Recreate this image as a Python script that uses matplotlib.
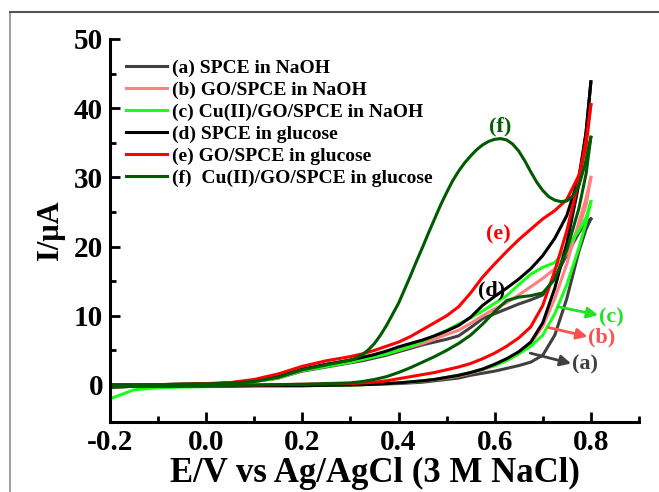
import matplotlib
matplotlib.use("Agg")
import matplotlib.pyplot as plt
from matplotlib.lines import Line2D

plt.rcParams['font.family'] = ['Liberation Serif', 'DejaVu Serif']
plt.rcParams['font.weight'] = 'bold'

# potential grid (V)
E = [-0.2, -0.15, -0.1, -0.05, 0.0, 0.05, 0.1, 0.15, 0.2, 0.25,
     0.3, 0.325, 0.35, 0.375, 0.4, 0.425, 0.45, 0.475, 0.5, 0.525,
     0.55, 0.575, 0.6, 0.625, 0.65, 0.675, 0.7, 0.725, 0.75, 0.775, 0.79, 0.8]

# forward (upper) branches, uA
a_fwd = [0.0, 0.0, 0.05, 0.1, 0.15, 0.25, 0.5, 1.0, 2.0, 2.6,
         3.2, 3.5, 3.9, 4.3, 4.8, 5.3, 5.8, 6.2, 6.6, 7.1,
         8.3, 9.6, 10.3, 11.0, 11.7, 12.3, 13.0, 15.5, 18.8, 22.0, 23.5, 24.0]
b_fwd = [0.0, 0.0, 0.05, 0.1, 0.15, 0.25, 0.5, 1.0, 2.1, 2.7,
         3.3, 3.7, 4.1, 4.5, 5.0, 5.5, 6.0, 6.6, 7.3, 7.9,
         8.9, 10.0, 11.0, 11.9, 13.0, 14.2, 15.4, 16.8, 19.0, 22.8, 26.0, 30.0]
c_fwd = [0.0, 0.0, 0.05, 0.1, 0.15, 0.25, 0.5, 1.0, 2.1, 2.7,
         3.3, 3.7, 4.1, 4.5, 5.0, 5.6, 6.3, 7.1, 7.9, 8.8,
         9.7, 10.7, 11.8, 12.9, 14.5, 16.0, 17.0, 17.7, 19.8, 22.3, 24.2, 26.5]
d_fwd = [0.0, 0.0, 0.05, 0.1, 0.15, 0.3, 0.6, 1.2, 2.3, 3.0,
         3.6, 4.0, 4.4, 4.9, 5.5, 6.0, 6.5, 7.1, 7.8, 8.6,
         9.8, 11.5, 12.8, 14.0, 15.3, 16.8, 18.7, 21.2, 24.5, 30.0, 36.5, 43.8]
e_fwd = [0.0, 0.0, 0.05, 0.1, 0.2, 0.35, 0.8, 1.6, 2.7, 3.5,
         4.1, 4.5, 5.0, 5.6, 6.2, 7.0, 8.0, 9.0, 10.0, 11.3,
         13.3, 15.6, 17.5, 19.3, 21.0, 22.5, 24.0, 25.2, 26.8, 30.3, 34.5, 40.5]

# reverse (lower) branches, uA
a_rev = [-0.3, -0.2, -0.15, -0.15, -0.15, -0.15, -0.1, -0.1, -0.1, -0.05,
         0.0, 0.05, 0.1, 0.15, 0.2, 0.3, 0.4, 0.6, 0.8, 1.0,
         1.4, 1.7, 2.0, 2.4, 2.8, 3.3, 4.3, 7.2, 12.5, 19.3, 22.5, 24.0]
b_rev = [-0.3, -0.2, -0.15, -0.15, -0.15, -0.15, -0.1, -0.1, -0.1, -0.05,
         0.0, 0.05, 0.1, 0.2, 0.3, 0.4, 0.55, 0.75, 1.0, 1.3,
         1.7, 2.2, 2.8, 3.6, 4.5, 6.0, 8.5, 12.5, 17.5, 23.5, 27.0, 30.0]
c_rev = [-2.0, -0.7, -0.4, -0.3, -0.25, -0.2, -0.15, -0.1, -0.1, -0.05,
         0.0, 0.05, 0.1, 0.2, 0.3, 0.45, 0.6, 0.8, 1.1, 1.4,
         1.8, 2.3, 2.8, 3.5, 4.5, 5.6, 7.2, 10.3, 14.5, 19.8, 23.5, 26.5]
d_rev = [-0.3, -0.2, -0.15, -0.15, -0.15, -0.15, -0.1, -0.1, -0.1, -0.05,
         0.0, 0.05, 0.1, 0.2, 0.3, 0.45, 0.6, 0.8, 1.1, 1.4,
         1.8, 2.3, 3.0, 3.8, 4.8, 6.2, 9.0, 14.0, 20.5, 29.0, 36.5, 43.8]
e_rev = [-0.2, -0.1, -0.05, 0.0, 0.0, 0.0, 0.0, 0.05, 0.1, 0.15,
         0.2, 0.3, 0.4, 0.6, 0.9, 1.2, 1.5, 1.8, 2.2, 2.6,
         3.1, 3.8, 4.6, 5.6, 6.8, 8.4, 11.5, 16.5, 22.3, 29.5, 35.5, 40.5]
f_rev = [-0.3, -0.2, -0.15, -0.1, -0.1, -0.05, 0.0, 0.05, 0.1, 0.2,
         0.3, 0.5, 0.8, 1.2, 1.8, 2.5, 3.3, 4.1, 5.0, 6.0,
         7.2, 8.8, 10.6, 12.2, 12.7, 12.9, 13.3, 15.3, 19.5, 25.5, 30.5, 35.8]

# curve (f) forward scan read on a finer grid around the oxidation peak
E_f = [-0.2, -0.15, -0.1, -0.05, 0.0, 0.05, 0.1, 0.15, 0.2, 0.25,
       0.3, 0.3125, 0.325, 0.3375, 0.35, 0.3625, 0.375, 0.3875, 0.4, 0.4125,
       0.425, 0.4375, 0.45, 0.4625, 0.475, 0.4875, 0.5, 0.5125, 0.525, 0.5375,
       0.55, 0.5625, 0.575, 0.5875, 0.6, 0.6125, 0.625, 0.6375, 0.65, 0.6625,
       0.675, 0.6875, 0.7, 0.7125, 0.725, 0.7375, 0.75, 0.7625, 0.775, 0.7875, 0.8]
f_fwd = [0.0, 0.0, 0.05, 0.1, 0.15, 0.25, 0.5, 1.1, 2.2, 2.9,
         3.6, 3.9, 4.4, 5.1, 6.0, 7.2, 8.6, 10.2, 11.8, 13.8,
         15.8, 17.9, 19.9, 22.0, 24.0, 26.0, 27.8, 29.5, 30.9, 32.1,
         33.1, 34.0, 34.7, 35.2, 35.5, 35.6, 35.4, 34.8, 33.8, 32.4,
         30.8, 29.3, 28.1, 27.2, 26.7, 26.5, 26.6, 27.3, 28.8, 31.8, 35.8]

labels = ['(a) SPCE in NaOH', '(b) GO/SPCE in NaOH', '(c) Cu(II)/GO/SPCE in NaOH',
          '(d) SPCE in glucose', '(e) GO/SPCE in glucose', '(f)  Cu(II)/GO/SPCE in glucose']
colors = ['#404040', '#ff8080', '#1aff1a', '#000000', '#ff0000', '#005a00']
fwd_x = [E, E, E, E, E, E_f]
fwd = [a_fwd, b_fwd, c_fwd, d_fwd, e_fwd, f_fwd]
rev = [a_rev, b_rev, c_rev, d_rev, e_rev, f_rev]

fig = plt.figure(figsize=(6.59, 4.92), dpi=100)
ax = fig.add_axes([0.1669, 0.1423, 0.8027, 0.7785])

for xf, yf, yr, col, lab in zip(fwd_x, fwd, rev, colors, labels):
    ax.plot(xf, yf, color=col, lw=2.2, label=lab, solid_joinstyle='round')
    ax.plot(E, yr, color=col, lw=2.2, solid_joinstyle='round')

ax.set_xlim(-0.2, 0.9)
ax.set_ylim(-5.35, 50)
ax.set_xticks([-0.2, 0.0, 0.2, 0.4, 0.6, 0.8])
ax.set_xticks([-0.1, 0.1, 0.3, 0.5, 0.7, 0.9], minor=True)
ax.set_yticks([0, 10, 20, 30, 40, 50])
ax.set_yticks([5, 15, 25, 35, 45], minor=True)
ax.set_xticklabels(['-0.2', '0.0', '0.2', '0.4', '0.6', '0.8'])
ax.tick_params(which='major', direction='in', length=7, width=2, labelsize=21, pad=5)
ax.tick_params(which='minor', direction='in', length=4, width=2)
for s in ['top', 'right']:
    ax.spines[s].set_visible(False)
for s in ['left', 'bottom']:
    ax.spines[s].set_linewidth(2.2)

ax.set_xlabel('E/V vs Ag/AgCl (3 M NaCl)', fontsize=25, fontweight='bold', labelpad=1)
ax.set_ylabel('I/\u03bcA', fontsize=22, fontweight='bold', labelpad=6)

ax.legend(loc='upper left', bbox_to_anchor=(0.03, 0.947), frameon=False,
          prop={'size': 14, 'weight': 'bold'}, handlelength=2.1,
          handletextpad=0.26, labelspacing=0.22, borderaxespad=0, borderpad=0)

# curve labels
ax.text(0.612, 37.3, '(f)', color='#006000', fontsize=16, ha='center', va='center')
ax.text(0.608, 21.7, '(e)', color='#ff0000', fontsize=16, ha='center', va='center')
ax.text(0.594, 13.6, '(d)', color='#000000', fontsize=16, ha='center', va='center')
ax.text(0.842, 9.8, '(c)', color='#22e022', fontsize=16, ha='center', va='center')
ax.text(0.822, 6.8, '(b)', color='#ff5050', fontsize=16, ha='center', va='center')
ax.text(0.788, 3.0, '(a)', color='#404040', fontsize=16, ha='center', va='center')

# arrows from the curves to their labels
arrow_start = [(0.732, 11.3), (0.712, 8.3), (0.674, 4.6)]
arrow_end = [(0.815, 10.1), (0.793, 7.0), (0.759, 3.1)]
arrow_col = ['#22e022', '#ff5050', '#404040']
for st, en, col in zip(arrow_start, arrow_end, arrow_col):
    ax.annotate('', xy=en, xytext=st,
                arrowprops=dict(arrowstyle='-|>', color=col, lw=2,
                                mutation_scale=16, shrinkA=0, shrinkB=0))

# gray frame around the figure (left and top)
fig.add_artist(Line2D([10 / 659, 10 / 659], [0, 1 - 12 / 492], color='#8c8c8c', lw=1.2))
fig.add_artist(Line2D([10 / 659, 1], [1 - 12 / 492, 1 - 12 / 492], color='#555555', lw=1.5))

fig.savefig('out.png', dpi=100)
